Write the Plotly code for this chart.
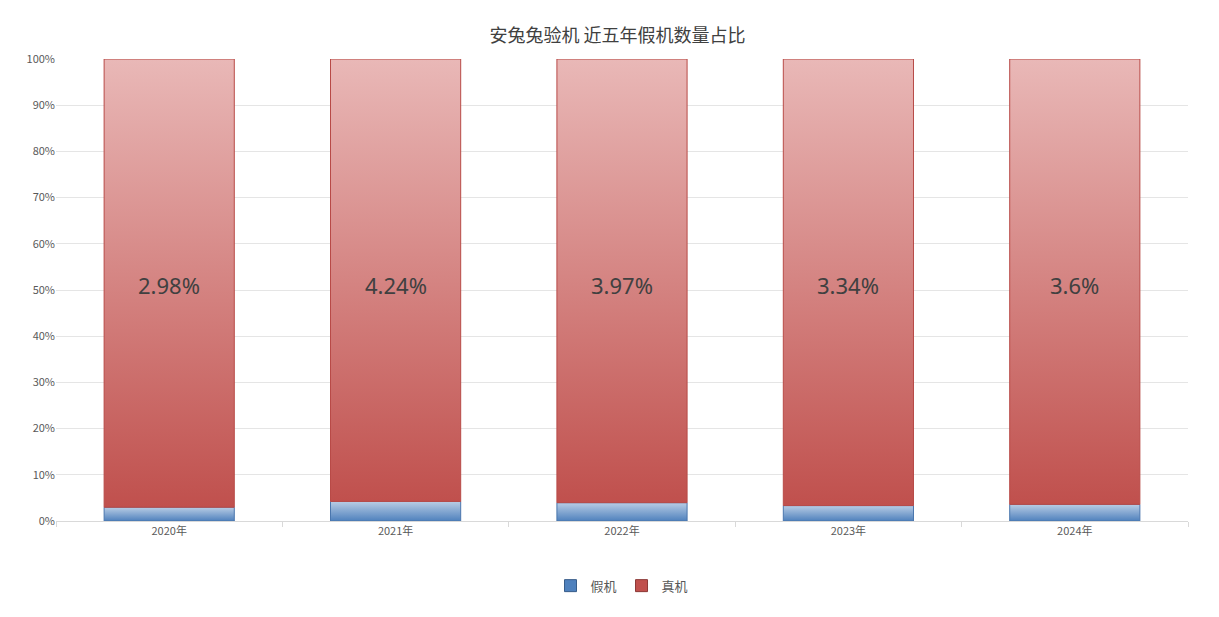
import plotly.graph_objects as go

years = ["2020年", "2021年", "2022年", "2023年", "2024年"]
fake_pct = [2.98, 4.24, 3.97, 3.34, 3.6]
labels = ["2.98%", "4.24%", "3.97%", "3.34%", "3.6%"]
y_ticks = list(range(0, 101, 10))
y_tick_text = [f"{v}%" for v in y_ticks]

W = 0.575
fig = go.Figure()
for i, f in enumerate(fake_pct):
    x0, x1 = i - W / 2, i + W / 2
    fig.add_trace(go.Scatter(x=[x0, x1, x1, x0, x0], y=[0, 0, f, f, 0], mode="lines", fill="toself",
        line=dict(color="#4a76ad", width=1),
        fillgradient=dict(type="vertical", colorscale=[[0, "#4f81bd"], [1, "#b9cde5"]]),
        showlegend=False, hoverinfo="skip"))
    fig.add_trace(go.Scatter(x=[x0, x1, x1, x0, x0], y=[f, f, 100, 100, f], mode="lines", fill="toself",
        line=dict(color="#b84a47", width=1),
        fillgradient=dict(type="vertical", colorscale=[[0, "#c0504d"], [1, "#e9b8b7"]]),
        showlegend=False, hoverinfo="skip"))
    fig.add_annotation(x=i, y=51, text=labels[i], showarrow=False,
                       font=dict(size=22, color="#404040", family="Noto Sans"))

fig.add_trace(go.Bar(x=[None], y=[None], name="假机", marker=dict(color="#4f81bd", line=dict(color="#385d8a", width=1))))
fig.add_trace(go.Bar(x=[None], y=[None], name="真机", marker=dict(color="#c0504d", line=dict(color="#8c3836", width=1))))

fig.update_layout(
    width=1219, height=617, paper_bgcolor="white", plot_bgcolor="white",
    margin=dict(l=48, r=39, t=51, b=104),
    title=dict(text="安兔兔验机 近五年假机数量占比", x=0.5, y=0.965, xanchor="center",
               font=dict(size=18, color="#404040", family="Noto Sans CJK SC")),
    font=dict(family="Noto Sans CJK SC", color="#595959", size=11),
    legend=dict(orientation="h", x=0.5, xanchor="center", y=-0.14, yanchor="middle",
                font=dict(size=13, color="#595959"), itemwidth=30),
    showlegend=True,
)
fig.update_xaxes(range=[-0.5, 4.5], tickvals=list(range(5)), ticktext=years, showgrid=False,
                 showline=True, linecolor="#d9d9d9", ticks="", zeroline=False,
                 tickfont=dict(color="#595959"),
                 minor=dict(tickvals=[-0.5, 0.5, 1.5, 2.5, 3.5, 4.5], ticks="outside", ticklen=5, tickcolor="#d9d9d9"))
fig.update_yaxes(range=[0, 100], tickmode="array", tickvals=y_ticks, ticktext=y_tick_text,
                 tickfont=dict(color="#595959"),
                 gridcolor="#e5e5e5", zeroline=False, showline=False)
fig.write_html("out.html")
